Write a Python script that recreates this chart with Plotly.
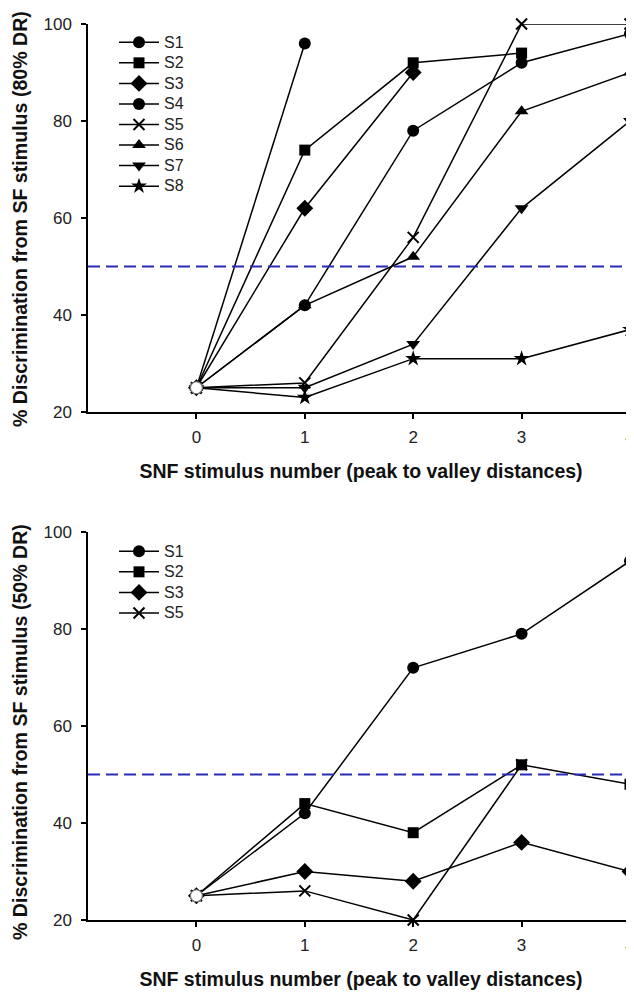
import plotly.graph_objects as go
from plotly.subplots import make_subplots

# ---------------- data ----------------
x_levels = [0, 1, 2, 3, 4]
x_tick_labels = ["0", "1", "2", "3", "4"]
y_tick_vals = [20, 40, 60, 80, 100]

top_names = ["S1", "S2", "S3", "S4", "S5", "S6", "S7", "S8"]
top_S1 = [25, 96]
top_S2 = [25, 74, 92, 94]
top_S3 = [25, 62, 90]
top_S4 = [25, 42, 78, 92, 98]
top_S5 = [25, 26, 56, 100, 100]
top_S6 = [25, 42, 52, 82, 90]
top_S7 = [25, 25, 34, 62, 80]
top_S8 = [25, 23, 31, 31, 37]
top_series = [top_S1, top_S2, top_S3, top_S4, top_S5, top_S6, top_S7, top_S8]

bot_names = ["S1", "S2", "S3", "S5"]
bot_S1 = [25, 42, 72, 79, 94]
bot_S2 = [25, 44, 38, 52, 48]
bot_S3 = [25, 30, 28, 36, 30]
bot_S5 = [25, 26, 20, 52]
bot_series = [bot_S1, bot_S2, bot_S3, bot_S5]

baseline_x = [0]
baseline_y = [25]
criterion = 50

symbols = {"S1": "circle", "S2": "square", "S3": "diamond", "S4": "circle",
           "S5": "x-thin", "S6": "triangle-up", "S7": "triangle-down", "S8": "star"}
sizes = {"S1": 12, "S2": 11, "S3": 13, "S4": 12, "S5": 11, "S6": 12, "S7": 12, "S8": 12}

# page body has an 8px margin; figure is sized/positioned to compensate
OFF = 8
W, H = 634 - OFF, 995 - OFF
L = 88 - OFF
FONT = "Liberation Sans, Arial, sans-serif"

fig = make_subplots(rows=2, cols=1)

def add_panel(names, series, row, legend_id):
    for name, vals in zip(names, series):
        fig.add_trace(go.Scatter(
            x=x_levels[:len(vals)], y=vals,
            name='<span style="font-size:16px">%s</span>' % name,
            mode="lines+markers",
            line=dict(color="black", width=1.5),
            marker=dict(symbol=symbols[name], size=sizes[name], color="black",
                        line=dict(color="black", width=2 if name == "S5" else 0)),
            cliponaxis=False, legend=legend_id,
        ), row=row, col=1)
    fig.add_trace(go.Scatter(
        x=baseline_x, y=baseline_y, mode="markers", showlegend=False,
        marker=dict(symbol="circle", size=12, color="white",
                    line=dict(color="#777777", width=1.2)),
        cliponaxis=False,
    ), row=row, col=1)
    fig.add_hline(y=criterion, line=dict(color="#2a2ab4", width=2, dash="12px,6px"),
                  row=row, col=1)

add_panel(top_names, top_series, 1, "legend")
add_panel(bot_names, bot_series, 2, "legend2")

def py(page_y):
    return 1 - (page_y - OFF) / H

def px(page_x):
    return (page_x - OFF - L) / (W - L)

top_dom = [py(412), py(24)]
bot_dom = [py(920), py(532)]

axis_common = dict(showline=True, linecolor="black", linewidth=1.5, showgrid=False,
                   zeroline=False, ticks="outside", ticklen=5, tickwidth=1.5,
                   tickcolor="black", tickfont=dict(family=FONT, size=17, color="#222"),
                   automargin=False)

for i, dom in [(1, top_dom), (2, bot_dom)]:
    fig.update_xaxes(range=[-1, 4.037], tickvals=x_levels, ticktext=x_tick_labels,
                     ticklabelstandoff=4, ticklabeloverflow="allow",
                     title=dict(text="<b>SNF stimulus number (peak to valley distances)</b>",
                                font=dict(family=FONT, size=19.5, color="#111"), standoff=18),
                     row=i, col=1, **axis_common)
    fig.update_yaxes(range=[20, 100], tickvals=y_tick_vals, domain=dom,
                     ticklabelstandoff=6, row=i, col=1, **axis_common)

ytitles = ["<b>% Discrimination from SF stimulus (80% DR)</b>",
           "<b>% Discrimination from SF stimulus (50% DR)</b>"]
for txt, yc in zip(ytitles, [219, 732]):
    fig.add_annotation(text=txt, xref="paper", yref="paper",
                       x=px(20), y=py(yc), textangle=-90,
                       showarrow=False, font=dict(family=FONT, size=19.6, color="#111"),
                       xanchor="center", yanchor="middle")

legend_common = dict(font=dict(family=FONT, size=13.5, color="#222"),
                     bgcolor="rgba(0,0,0,0)", borderwidth=0, xanchor="left",
                     yanchor="top", tracegroupgap=0, itemwidth=40)

fig.update_layout(
    width=W, height=H, margin=dict(l=L, r=0, t=0, b=0),
    paper_bgcolor="white", plot_bgcolor="white",
    legend=dict(x=px(114), y=py(27), **legend_common),
    legend2=dict(x=px(114), y=py(536), **legend_common),
)

fig.write_html("out.html")
